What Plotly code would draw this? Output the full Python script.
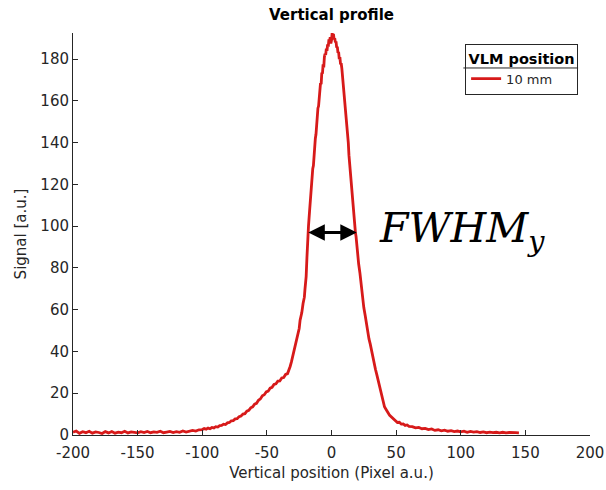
import plotly.graph_objects as go

# ---- data ----
position = [
    -200, -197.5, -195, -192.5, -190, -187.5, -185, -182.5, -180, -177.5,
    -175, -172.5, -170, -167.5, -165, -162.5, -160, -157.5, -155, -152.5,
    -150, -147.5, -145, -142.5, -140, -137.5, -135, -132.5, -130, -127.5,
    -125, -122.5, -120, -117.5, -115, -112.5, -110, -107.5, -105, -102.5,
    -100, -98.5, -97, -95.5, -94, -92.5, -91, -89.5, -88, -86.5,
    -85, -83.5, -82, -80.5, -79, -77.5, -76, -74.5, -73, -71.5,
    -70, -68.5, -67, -65.5, -64, -62.5, -61, -59.5, -58, -56.5,
    -55, -53.5, -52, -50.5, -49, -47.5, -46, -44.5, -43, -41.5,
    -40, -38.5, -37, -35.5, -34, -33, -32, -31, -30, -29,
    -28, -27, -26, -25, -24.3, -23, -22, -21, -20.5, -19.6,
    -19, -18.5, -17.8, -17, -16.5, -16, -15.5, -15, -14.5, -14,
    -13.5, -13, -12.5, -12, -11.5, -11, -10.5, -10, -9.5, -9,
    -8.5, -8, -7.5, -7, -6.5, -6, -5.5, -5, -4.5, -4,
    -3.5, -3, -2.5, -2, -1.5, -1, -0.5, 0, 0.5, 1,
    1.5, 2, 2.5, 3, 3.5, 4, 4.5, 5, 5.5, 6,
    6.5, 7, 7.5, 8, 8.5, 9, 9.5, 10, 10.5, 11,
    11.5, 12, 12.5, 13, 13.5, 14, 14.5, 15, 15.5, 16,
    16.5, 17, 17.5, 18, 18.5, 19, 19.5, 20, 21, 22,
    23, 24, 25, 26, 27, 28, 29, 30, 31, 32,
    33, 34, 35, 36, 37, 38, 39, 40, 41, 42,
    43, 44, 45, 46.5, 48, 49.5, 51, 52.5, 54, 55.5,
    57, 58.5, 60, 62.5, 65, 67.5, 70, 72.5, 75, 77.5,
    80, 82.5, 85, 87.5, 90, 92.5, 95, 97.5, 100, 102.5,
    105, 107.5, 110, 112.5, 115, 117.5, 120, 122.5, 125, 127.5,
    130, 132.5, 135, 137.5, 140, 142.5, 145,
]
signal = [
    1.3, 1.9, 0.8, 1.6, 1.1, 1.8, 0.9, 1.5, 1.2, 0.7,
    1.6, 1.0, 1.7, 0.9, 1.4, 1.1, 1.8, 1.0, 1.5, 1.2,
    1.0, 1.6, 1.2, 1.7, 1.1, 1.5, 1.3, 1.8, 1.1, 1.4,
    1.7, 1.2, 1.6, 1.3, 1.9, 1.4, 1.8, 2.2, 1.9, 2.5,
    2.6, 3.1, 2.8, 3.3, 3.0, 3.6, 3.4, 4.0, 3.8, 4.5,
    4.6, 5.2, 5.0, 5.8, 6.0, 6.8, 6.9, 7.7, 7.8, 8.8,
    9.1, 10.0, 10.2, 11.4, 11.8, 13.0, 13.5, 14.8, 15.2, 16.6,
    17.3, 18.8, 19.3, 20.6, 21.0, 22.4, 22.8, 24.2, 24.5, 25.8,
    25.9, 27.3, 27.5, 29.0, 29.4, 30.8, 32.8, 35.0, 37.6, 40.5,
    43.8, 45.6, 48.8, 51.0, 55.0, 58.5, 63.0, 66.0, 70.0, 76.0,
    85.0, 94.0, 100.0, 107.0, 111.5, 114.0, 119.5, 122.0, 127.5, 129.0,
    135.0, 136.5, 142.0, 144.0, 149.5, 151.0, 156.5, 157.5, 162.5, 163.5,
    168.5, 168.0, 173.5, 173.0, 177.5, 176.0, 181.0, 182.5, 182.0, 185.0,
    184.0, 187.0, 186.0, 189.5, 188.5, 190.5, 187.5, 189.0, 192.5, 191.0,
    192.0, 189.5, 190.0, 188.0, 188.5, 185.5, 186.0, 183.0, 183.5, 180.0,
    181.0, 177.5, 178.0, 175.5, 172.0, 170.5, 166.0, 163.5, 159.0, 156.0,
    151.5, 148.0, 143.5, 140.0, 134.0, 130.0, 125.0, 121.0, 117.0, 114.0,
    109.0, 107.0, 102.5, 101.0, 97.0, 95.0, 91.0, 88.5, 82.0, 77.5,
    71.0, 66.5, 61.0, 57.5, 53.0, 49.5, 46.0, 43.5, 40.0, 37.5,
    34.0, 31.5, 29.0, 26.5, 23.0, 20.5, 17.5, 15.5, 13.5, 12.5,
    11.0, 10.4, 9.4, 8.6, 7.4, 7.0, 6.0, 6.1, 5.2, 5.3,
    4.6, 4.8, 4.1, 4.0, 3.4, 3.6, 3.0, 3.2, 2.6, 2.9,
    2.2, 2.5, 2.0, 2.3, 1.8, 2.1, 1.6, 1.9, 1.5, 1.8,
    1.3, 1.7, 1.4, 1.6, 1.2, 1.5, 1.1, 1.4, 1.1, 1.3,
    1.0, 1.3, 1.0, 1.2, 1.0, 1.1, 1.0,
]
x_ticks = [-200, -150, -100, -50, 0, 50, 100, 150, 200]
x_tick_text = ["-200", "-150", "-100", "-50", "0", "50", "100", "150", "200"]
y_ticks = [0, 20, 40, 60, 80, 100, 120, 140, 160, 180]
fwhm_x = [-19.1, 19.6]
fwhm_level = 97

AX = "#262626"
FONT = "DejaVu Sans"

fig = go.Figure()
fig.add_trace(go.Scatter(
    x=position, y=signal, mode="lines", name="10 mm",
    line=dict(color="#d71a1a", width=2.8),
))

fig.add_annotation(
    x=fwhm_x[1], y=fwhm_level, ax=fwhm_x[0], ay=fwhm_level,
    xref="x", yref="y", axref="x", ayref="y", text="",
    showarrow=True, arrowhead=2, arrowside="end+start",
    arrowsize=1.1, arrowwidth=3, arrowcolor="black",
)
fig.add_annotation(
    x=0.588, y=0.507, xref="paper", yref="paper", text="<i>FWHM</i><sub><i>y</i></sub>",
    showarrow=False, xanchor="left", yanchor="middle",
    font=dict(family="DejaVu Serif", size=41, color="black"),
)
# divider between legend title and entry
fig.add_shape(type="line", xref="paper", yref="paper",
              x0=0.755, x1=0.977, y0=0.913, y1=0.913,
              line=dict(color=AX, width=1))

fig.update_layout(
    width=606, height=490,
    margin=dict(l=73, r=16, t=33, b=55, autoexpand=False),
    paper_bgcolor="white", plot_bgcolor="white",
    title=dict(text="<b>Vertical profile</b>", x=0.5, xanchor="center", xref="paper",
               yref="container", y=1 - 15 / 490, yanchor="middle",
               font=dict(family=FONT, size=15, color="black")),
    font=dict(family=FONT, size=15, color=AX),
    showlegend=True,
    legend=dict(
        x=0.977, y=0.973, xanchor="right", yanchor="top",
        bordercolor=AX, borderwidth=1, bgcolor="rgba(0,0,0,0)",
        title=dict(text="<b>VLM position</b>", side="top center",
                   font=dict(family=FONT, size=14.5, color="black")),
        font=dict(family=FONT, size=13, color=AX),
    ),
)
fig.update_xaxes(
    range=[-200, 200], tickvals=x_ticks, ticktext=x_tick_text,
    ticks="inside", ticklen=5, tickcolor=AX, ticklabelstandoff=4,
    showline=True, linecolor=AX, linewidth=1, showgrid=False, zeroline=False,
    automargin=False,
    title=dict(text="Vertical position (Pixel a.u.)", font=dict(size=15), standoff=6),
)
fig.update_yaxes(
    range=[0, 192.5], tickvals=y_ticks,
    ticks="inside", ticklen=5, tickcolor=AX,
    showline=True, linecolor=AX, linewidth=1, showgrid=False, zeroline=False,
    automargin=False,
    title=dict(text="Signal [a.u.]", font=dict(size=15), standoff=10),
)

fig.write_html("out.html", config={"displayModeBar": False},
               post_script="document.body.style.margin='0';")
